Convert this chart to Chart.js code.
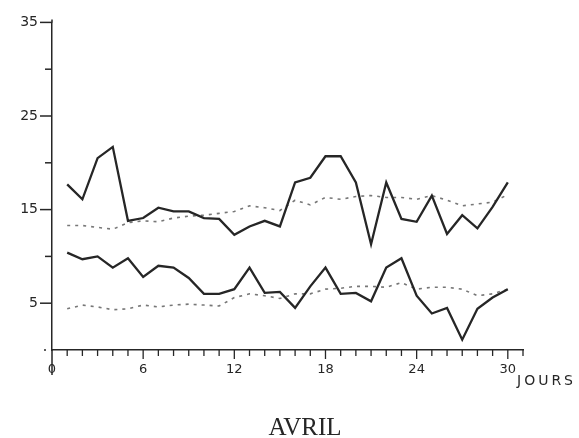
<!DOCTYPE html>
<html>
<head>
<meta charset="utf-8">
<script src="https://cdn.jsdelivr.net/npm/chart.js@4.4.1/dist/chart.umd.min.js"></script>
<style>
  html, body { margin: 0; padding: 0; background: #fff; }
  canvas { display: block; }
</style>
</head>
<body>
<canvas id="c" width="579" height="438"></canvas>
<script>
// Daily temperatures for April (°C): observed max/min and normal max/min
const days = [1,2,3,4,5,6,7,8,9,10,11,12,13,14,15,16,17,18,19,20,21,22,23,24,25,26,27,28,29,30];
const tmaxObs = [17.7,16.1,20.5,21.7,13.8,14.1,15.2,14.8,14.8,14.1,14.0,12.3,13.2,13.8,13.2,17.9,18.4,20.7,20.7,17.9,11.3,17.9,14.0,13.7,16.5,12.4,14.4,13.0,15.3,17.9];
const tminObs = [10.4,9.7,10.0,8.8,9.8,7.8,9.0,8.8,7.7,6.0,6.0,6.5,8.8,6.1,6.2,4.5,6.8,8.8,6.0,6.1,5.2,8.8,9.8,5.8,3.9,4.5,1.1,4.4,5.6,6.5];
const tmaxNorm = [13.3,13.3,13.1,12.9,13.6,13.8,13.7,14.1,14.3,14.4,14.6,14.8,15.4,15.2,14.9,16.0,15.5,16.3,16.1,16.4,16.5,16.3,16.3,16.1,16.5,16.0,15.4,15.6,15.8,16.6];
const tminNorm = [4.4,4.8,4.6,4.3,4.4,4.8,4.6,4.8,4.9,4.8,4.7,5.6,6.0,5.8,5.5,6.0,6.0,6.5,6.6,6.8,6.8,6.7,7.2,6.5,6.7,6.7,6.5,5.8,6.0,6.5];
const xTickLabels = [0, 6, 12, 18, 24, 30];
const yTickLabels = [5, 15, 25, 35];
const xAxisName = 'JOURS';
const monthName = 'AVRIL';

const INK = '#262626';
const pts = arr => days.map((d, i) => ({ x: d, y: arr[i] }));

const solid = { borderColor: INK, borderWidth: 2.3, pointRadius: 0, tension: 0, fill: false };
const dotted = { borderColor: '#777777', borderWidth: 1.6, borderDash: [3, 5], pointRadius: 0, tension: 0, fill: false };

// Tick marks, axis extensions and free-standing labels
const axisMarks = {
  id: 'axisMarks',
  afterDraw(chart) {
    const { ctx, scales: { x, y } } = chart;
    ctx.save();
    ctx.strokeStyle = INK;
    ctx.lineWidth = 1.5;
    ctx.lineCap = 'butt';
    // y axis continues a little beyond both ends
    ctx.beginPath();
    ctx.moveTo(x.left, y.top - 3);
    ctx.lineTo(x.left, y.top);
    ctx.moveTo(x.left, y.bottom);
    ctx.lineTo(x.left, y.bottom + 25);
    ctx.stroke();
    // y ticks: long where labelled, short otherwise, a dot at zero
    for (let v = 0; v <= 35; v += 5) {
      const py = y.getPixelForValue(v);
      const len = yTickLabels.includes(v) ? 12 : 7;
      ctx.beginPath();
      if (v === 0) {
        ctx.moveTo(x.left - 8, py);
        ctx.lineTo(x.left - 6, py);
      } else {
        ctx.moveTo(x.left - len, py);
        ctx.lineTo(x.left, py);
      }
      ctx.stroke();
    }
    // x ticks: one per day, longer every sixth day
    ctx.lineWidth = 1.3;
    for (let d = 1; d <= 31; d++) {
      const px = x.getPixelForValue(d);
      const len = xTickLabels.includes(d) ? 9 : 6;
      ctx.beginPath();
      ctx.moveTo(px, y.bottom);
      ctx.lineTo(px, y.bottom + len);
      ctx.stroke();
    }
    ctx.fillStyle = INK;
    ctx.font = '14px "DejaVu Sans"';
    ctx.textAlign = 'left';
    ctx.textBaseline = 'alphabetic';
    ctx.letterSpacing = '3px';
    ctx.fillText(xAxisName, x.getPixelForValue(31) - 6, y.bottom + 35);
    ctx.letterSpacing = '0px';
    ctx.font = '25px "Liberation Serif"';
    ctx.textAlign = 'center';
    ctx.fillText(monthName, 305, 435);
    ctx.restore();
  }
};

new Chart(document.getElementById('c'), {
  type: 'line',
  data: {
    datasets: [
      { label: 'Tmax', data: pts(tmaxObs), ...solid },
      { label: 'Tmin', data: pts(tminObs), ...solid },
      { label: 'Tmax normale', data: pts(tmaxNorm), ...dotted },
      { label: 'Tmin normale', data: pts(tminNorm), ...dotted }
    ]
  },
  options: {
    responsive: false,
    animation: false,
    devicePixelRatio: 1,
    layout: { padding: { left: 0, right: 56, top: 18, bottom: 0 } },
    plugins: { legend: { display: false }, title: { display: false }, tooltip: { enabled: false } },
    scales: {
      x: {
        type: 'linear', min: 0, max: 31,
        afterFit: s => { s.height = 88; },
        grid: { display: true, drawOnChartArea: false, drawTicks: false },
        border: { display: true, color: INK, width: 1.5 },
        ticks: {
          stepSize: 1, autoSkip: false, maxRotation: 0, padding: 12,
          color: INK, font: { family: 'DejaVu Sans', size: 13 },
          callback: v => xTickLabels.includes(v) ? String(v) : ''
        }
      },
      y: {
        type: 'linear', min: 0, max: 35,
        afterFit: s => { s.width = 52; },
        grid: { display: true, drawOnChartArea: false, drawTicks: false },
        border: { display: true, color: INK, width: 1.5 },
        ticks: {
          stepSize: 5, autoSkip: false, padding: 14,
          color: INK, font: { family: 'DejaVu Sans', size: 14 },
          callback: v => yTickLabels.includes(v) ? String(v) : ''
        }
      }
    }
  },
  plugins: [axisMarks]
});
</script>
</body>
</html>
